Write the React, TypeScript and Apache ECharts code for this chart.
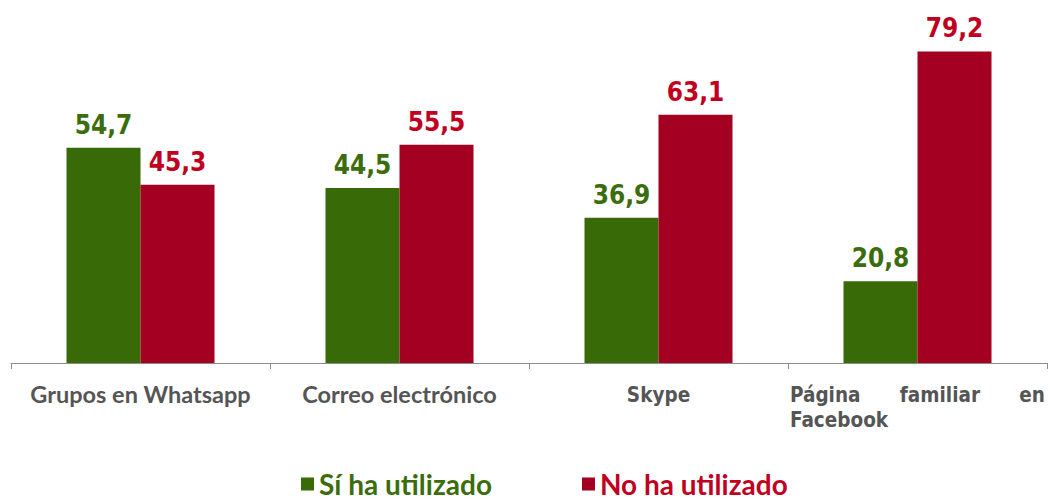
import React, { useEffect, useRef } from "react";
import * as echarts from "echarts";

const categories = ["Grupos en Whatsapp", "Correo electrónico", "Skype", "Página familiar en Facebook"];
const siValues = [54.7, 44.5, 36.9, 20.8];
const noValues = [45.3, 55.5, 63.1, 79.2];
const seriesNames = ["Sí ha utilizado", "No ha utilizado"];

const GREEN_BAR = "#386a07";
const RED_BAR = "#a30022";
const GREEN_TEXT = "#3c6d0d";
const RED_TEXT = "#c0001e";
const VER = "'DejaVu Sans Condensed', 'DejaVu Sans', sans-serif";
const CAL = "Lato";

export default function App() {
  const ref = useRef<HTMLDivElement>(null);
  useEffect(() => {
    if (!ref.current) return;
    const chart = echarts.init(ref.current, undefined, { renderer: "svg" });
    const fmt = (p: any) => Number(p.value).toFixed(1).replace(".", ",");
    const verStyle = { fontFamily: VER, fontWeight: "bold" as const, fontSize: 20.5, color: "#555", lineHeight: 25 };
    chart.setOption({
      animation: false,
      backgroundColor: "#ffffff",
      grid: { left: 11, right: 7, top: 9, bottom: 137, containLabel: false },
      legend: {
        left: 301,
        bottom: 1,
        padding: [0, 0, 0, 0],
        icon: "rect",
        itemWidth: 13,
        itemHeight: 13,
        itemGap: 90,
        textStyle: { fontFamily: CAL, fontWeight: "bold", fontSize: 28, lineHeight: 30 },
        data: [
          { name: seriesNames[0], textStyle: { color: GREEN_TEXT } },
          { name: seriesNames[1], textStyle: { color: RED_TEXT } },
        ],
      },
      xAxis: {
        type: "category",
        data: categories,
        axisLine: { lineStyle: { color: "#8c8c8c", width: 1 } },
        axisTick: { show: true, length: 6, lineStyle: { color: "#8c8c8c" } },
        axisLabel: {
          interval: 0,
          margin: 19,
          width: 255,
          formatter: (v: string) => {
            if (v === categories[0] || v === categories[1]) return `{cal|${v}}`;
            if (v === categories[3]) {
              const w = v.split(" ");
              return `{l|${w[0]}}{c|${w[1]}}{r|${w[2]}}\n{l|${w[3]}}`;
            }
            return `{ver|${v}}`;
          },
          rich: {
            cal: { fontFamily: CAL, fontWeight: "bold", fontSize: 23.5, color: "#555" },
            ver: { ...verStyle },
            l: { ...verStyle, align: "left" },
            c: { ...verStyle, align: "center" },
            r: { ...verStyle, align: "right" },
          },
        },
      },
      yAxis: {
        type: "value",
        min: 0,
        max: 90,
        show: false,
        splitLine: { show: false },
      },
      series: [
        {
          name: seriesNames[0],
          type: "bar",
          data: siValues,
          barWidth: 74,
          barGap: "0%",
          itemStyle: { color: GREEN_BAR },
          label: {
            show: true,
            position: "top",
            distance: 10,
            formatter: fmt,
            color: GREEN_TEXT,
            fontFamily: VER,
            fontWeight: "bold",
            fontSize: 26,
          },
        },
        {
          name: seriesNames[1],
          type: "bar",
          data: noValues,
          barWidth: 74,
          barGap: "0%",
          itemStyle: { color: RED_BAR },
          label: {
            show: true,
            position: "top",
            distance: 10,
            formatter: fmt,
            color: RED_TEXT,
            fontFamily: VER,
            fontWeight: "bold",
            fontSize: 26,
          },
        },
      ],
    });
    return () => chart.dispose();
  }, []);
  return <div ref={ref} style={{ width: 1054, height: 500, position: "absolute", left: 0, top: 0 }} />;
}
